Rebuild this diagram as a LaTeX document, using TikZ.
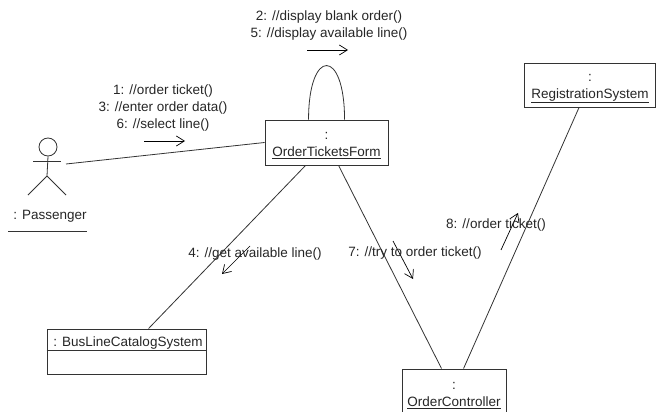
\documentclass[tikz,border=0pt]{standalone}
\usepackage{fontspec}
\setmainfont{Liberation Sans}
\usetikzlibrary{calc,arrows.meta}
\definecolor{umlline}{gray}{0.2}
\tikzset{
  umltext/.style={font=\fontsize{13.5}{17}\selectfont,text=black!85,inner sep=0pt,align=center},
  umlbox/.style={draw=umlline,line width=0.9pt,fill=white,umltext},
  umllink/.style={draw=umlline,line width=0.8pt},
  umlmsg/.style={draw=black,line width=0.7pt,-{Straight Barb[length=8pt,width=10pt]}}
}
\newcommand{\umlobj}[1]{\rule{0pt}{14pt}:\\\underline{#1}}

\begin{document}
\begin{tikzpicture}[x=1pt,y=-1pt]
\useasboundingbox (0,0) rectangle (656,412);

% objects
\node[umlbox,minimum width=123pt,minimum height=45pt] (form) at (326.5,142.5) {\umlobj{OrderTicketsForm}};
\node[umlbox,minimum width=131pt,minimum height=44pt] (reg) at (590,85) {\umlobj{RegistrationSystem}};
\node[umlbox,minimum width=104pt,minimum height=46pt] (ctrl) at (454,392) {\umlobj{OrderController}};
\node[umlbox,minimum width=159pt,minimum height=45pt] (bus) at (126.5,351.5) {};
\node[umltext] (busname) at (128,343) {: BusLineCatalogSystem};
\draw[umlline,line width=0.8pt] ($(bus.north west)+(0,22)$) -- ($(bus.north east)+(0,22)$);

% actor
\node[draw=umlline,line width=0.8pt,circle,minimum size=18pt,inner sep=0pt] (head) at (48,147) {};
\coordinate (hip) at (47,176);
\coordinate (armL) at (33,161);
\coordinate (armR) at (61,161);
\coordinate (legL) at (28,195);
\coordinate (legR) at (66,195);
\coordinate (hand) at (66,164);
\draw[umllink] (head.south) -- (hip) -- (legL);
\draw[umllink] (hip) -- (legR);
\draw[umllink] (armL) -- (armR);
\node[umltext] (passenger) at (50,216) {: Passenger};
\coordinate (lineL) at (8,231);
\coordinate (lineR) at (87,231);
\draw[umllink] (lineL) -- (lineR);

% links
\draw[umllink] (hand) -- (form.west);
\draw[umllink] ($(form.north west)+(44,0)$) .. controls ($(form.north west)+(44,-72)$) and ($(form.north west)+(80,-72)$) .. ($(form.north west)+(80,0)$);
\draw[umllink] ($(form.south west)+(41,0)$) -- ($(bus.north west)+(102,0)$);
\draw[umllink] ($(form.south west)+(74,0)$) -- ($(ctrl.north west)+(40,0)$);
\draw[umllink] ($(ctrl.north west)+(62,0)$) -- ($(reg.south west)+(55,0)$);

% messages
\coordinate (m1a) at (144,141);
\coordinate (m1b) at (185,141);
\coordinate (m2a) at (307,50);
\coordinate (m2b) at (348,50);
\coordinate (m4a) at (250,246);
\coordinate (m4b) at (222,274);
\coordinate (m7a) at (393,241);
\coordinate (m7b) at (413,279);
\coordinate (m8a) at (501,250);
\coordinate (m8b) at (518,213);
\draw[umlmsg] (m1a) -- (m1b);
\draw[umlmsg] (m2a) -- (m2b);
\draw[umlmsg] (m4a) -- (m4b);
\draw[umlmsg] (m7a) -- (m7b);
\draw[umlmsg] (m8a) -- (m8b);

% text
\node[umltext] (msgself) at (329,26) {2: //display blank order()\\5: //display available line()};
\node[umltext] (msgpass) at (163,108) {1: //order ticket()\\3: //enter order data()\\6: //select line()};
\node[umltext] (msgbus) at (255,254) {4: //get available line()};
\node[umltext] (msgctrl) at (415,253) {7: //try to order ticket()};
\node[umltext] (msgreg) at (496,225) {8: //order ticket()};
\end{tikzpicture}
\end{document}
